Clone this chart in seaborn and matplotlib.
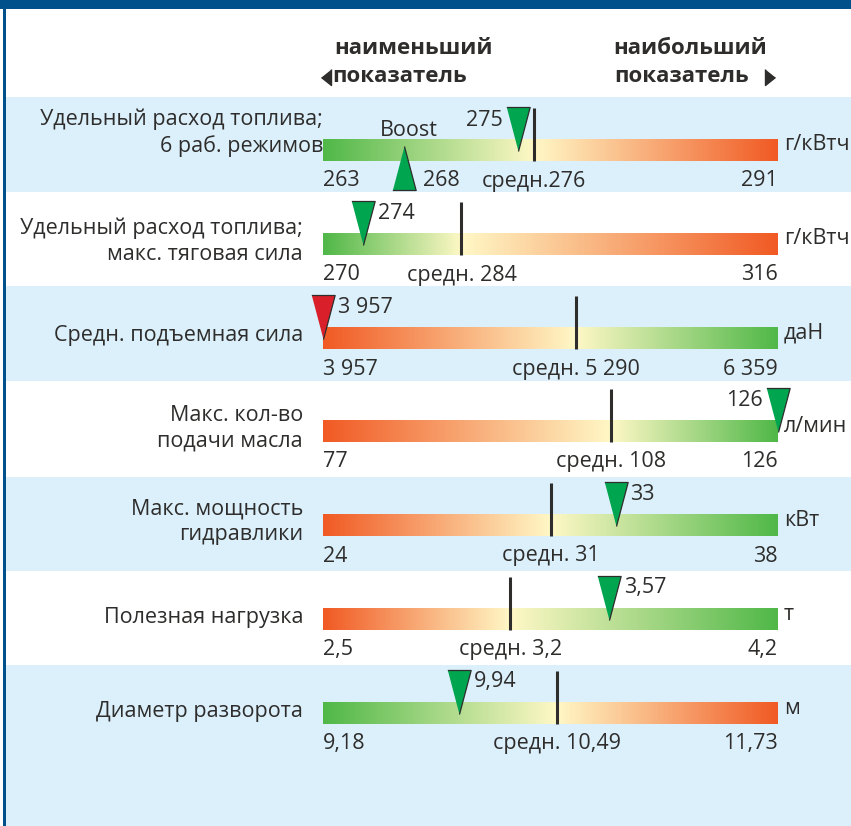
import numpy as np
import matplotlib
matplotlib.use("Agg")
import matplotlib.pyplot as plt
from matplotlib.colors import LinearSegmentedColormap
from matplotlib.patches import Rectangle
import seaborn as sns

# --- data -------------------------------------------------------------
labels = [
    "Удельный расход топлива;\n6 раб. режимов",
    "Удельный расход топлива;\nмакс. тяговая сила",
    "Средн. подъемная сила",
    "Макс. кол-во\nподачи масла",
    "Макс. мощность\nгидравлики",
    "Полезная нагрузка",
    "Диаметр разворота",
]
units = ["г/кВтч", "г/кВтч", "даН", "л/мин", "кВт", "т", "м"]
min_vals = [263, 270, 3957, 77, 24, 2.5, 9.18]
mean_vals = [276, 284, 5290, 108, 31, 3.2, 10.49]
max_vals = [291, 316, 6359, 126, 38, 4.2, 11.73]
tractor_vals = [275, 274, 3957, 126, 33, 3.57, 9.94]
lower_is_better = [True, True, False, False, False, False, True]

min_text = ["263", "270", "3 957", "77", "24", "2,5", "9,18"]
mean_text = ["средн.276", "средн. 284", "средн. 5 290", "средн. 108",
             "средн. 31", "средн. 3,2", "средн. 10,49"]
max_text = ["291", "316", "6 359", "126", "38", "4,2", "11,73"]
tractor_text = ["275", "274", "3 957", "126", "33", "3,57", "9,94"]

boost_val = 268
boost_text = "268"

# --- layout / style ---------------------------------------------------
W, H = 851, 826
BAR_X0, BAR_X1 = 323, 778
BAR_H = 22
band_tops = [97, 192, 286, 381, 477, 571, 665]
band_bottoms = band_tops[1:] + [H]
bar_tops = [139, 233, 327, 420, 514, 608, 702]
label_x = [323, 303, 303, 303, 303, 303, 303]
label_y = [133, 241, 336, 428, 522, 617, 711]
tractor_side = ["left", "right", "right", "left", "right", "right", "right"]

GREEN = "#50b848"
RED = "#f15a24"
PALE = "#fff8c6"
LIGHT_BLUE = "#dbf0fb"
DARK_BLUE = "#00508c"
INK = "#2e2d2c"
TRI_GREEN = "#00a550"
TRI_RED = "#d91f2a"
FS = 15.5
HFS = 16

sns.set_style("white")
plt.rcParams["font.family"] = ["Open Sans", "DejaVu Sans"]
plt.rcParams["text.color"] = INK

DOWN = np.array([[-0.53, 1.0], [0.53, 1.0], [0.0, -1.0]])
UP = DOWN * np.array([1, -1])
TRI_S = (44 * 0.72) ** 2

fig = plt.figure(figsize=(W / 100, H / 100), dpi=100)
bg = fig.add_axes([0, 0, 1, 1])
bg.set_xlim(0, W)
bg.set_ylim(H, 0)
bg.axis("off")

# row backgrounds and frame
for i, (t, b) in enumerate(zip(band_tops, band_bottoms)):
    if i % 2 == 0:
        bg.add_patch(Rectangle((6, t), W - 6, b - t, color=LIGHT_BLUE, lw=0))
bg.add_patch(Rectangle((0, 0), W, 9, color=DARK_BLUE, lw=0))
bg.add_patch(Rectangle((3, 0), 3, H, color=DARK_BLUE, lw=0))

# header
bg.text(414, 48, "наименьший", ha="center", va="center", fontsize=HFS, weight="bold")
bg.text(332, 77, "показатель", ha="left", va="center", fontsize=HFS, weight="bold")
bg.text(690, 48, "наибольший", ha="center", va="center", fontsize=HFS, weight="bold")
bg.text(614, 77, "показатель", ha="left", va="center", fontsize=HFS, weight="bold")
arrow_l = np.array([[1.0, 1.6], [1.0, -1.6], [-1.0, 0.0]])
bg.plot([326], [77], marker=arrow_l, ms=11.5, color=INK, ls="none")
bg.plot([770], [77], marker=arrow_l * np.array([-1, 1]), ms=11.5, color=INK, ls="none")

for i in range(len(labels)):
    t, b = band_tops[i], band_bottoms[i]
    y0 = bar_tops[i]
    y1 = y0 + BAR_H
    lo, hi, avg, val = min_vals[i], max_vals[i], mean_vals[i], tractor_vals[i]

    bg.text(label_x[i], label_y[i], labels[i], ha="right", va="center",
            fontsize=FS, linespacing=1.3, multialignment="right")
    bg.text(784, (y0 + y1) / 2 - 5, units[i], ha="left", va="center", fontsize=FS)

    ax = fig.add_axes([BAR_X0 / W, 1 - b / H, (BAR_X1 - BAR_X0) / W, (b - t) / H])
    ax.patch.set_alpha(0)

    frac = (avg - lo) / (hi - lo)
    ends = (GREEN, RED) if lower_is_better[i] else (RED, GREEN)
    cmap = LinearSegmentedColormap.from_list(
        f"row{i}", [(0, ends[0]), (frac, PALE), (1, ends[1])])
    ax.imshow(np.linspace(0, 1, 800)[None, :], extent=(lo, hi, y1, y0),
              aspect="auto", cmap=cmap, interpolation="bilinear")

    ax.vlines(avg, y0 - 31, y1, color=INK, lw=2.2)

    worst = hi if lower_is_better[i] else lo
    tri_color = TRI_RED if val == worst else TRI_GREEN
    sns.scatterplot(x=[val], y=[y0 - 10], marker=DOWN, s=TRI_S, color=tri_color,
                    edgecolor=INK, linewidth=0.9, ax=ax, clip_on=False, zorder=5)
    if tractor_side[i] == "right":
        ax.annotate(tractor_text[i], (val, y0 - 20), xytext=(15 * 0.72, 0),
                    textcoords="offset points", ha="left", va="center", fontsize=FS)
    else:
        ax.annotate(tractor_text[i], (val, y0 - 19), xytext=(-15 * 0.72, 0),
                    textcoords="offset points", ha="right", va="center", fontsize=FS)

    ax.text(lo, y1 + 20, min_text[i], ha="left", va="center", fontsize=FS)
    ax.text(avg, y1 + 20, mean_text[i], ha="center", va="center", fontsize=FS)
    ax.text(hi, y1 + 20, max_text[i], ha="right", va="center", fontsize=FS)

    if i == 0:
        sns.scatterplot(x=[boost_val], y=[y0 + 29], marker=UP, s=TRI_S, color=TRI_GREEN,
                        edgecolor=INK, linewidth=0.9, ax=ax, clip_on=False, zorder=5)
        ax.annotate("Boost", (boost_val, y0 - 8), xytext=(5 * 0.72, 0),
                    textcoords="offset points", ha="center", va="center", fontsize=FS)
        ax.annotate(boost_text, (boost_val, y1 + 20), xytext=(19 * 0.72, 0),
                    textcoords="offset points", ha="left", va="center", fontsize=FS)

    ax.set_xlim(lo, hi)
    ax.set_ylim(b, t)
    ax.axis("off")

fig.savefig("out.png", dpi=100)
